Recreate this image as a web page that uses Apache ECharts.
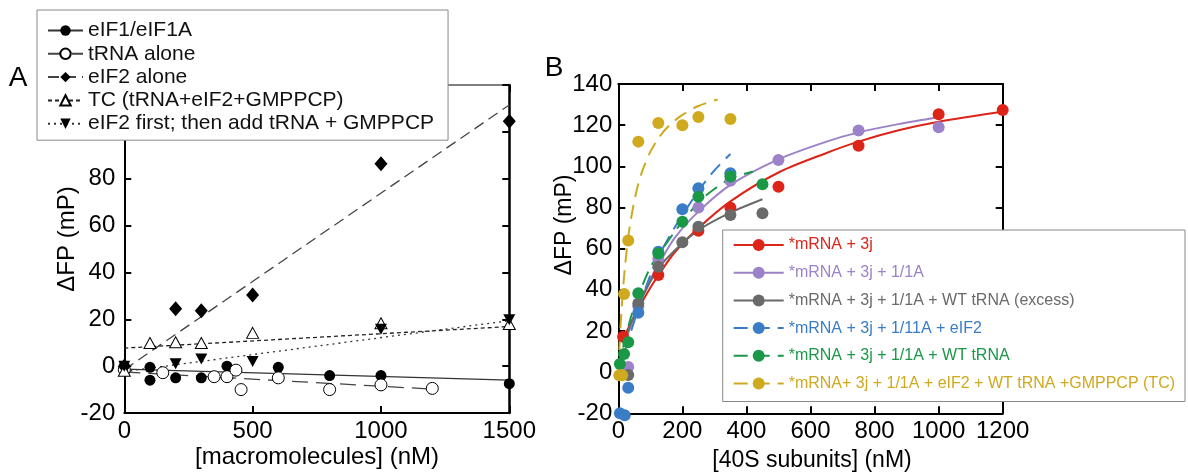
<!DOCTYPE html>
<html><head><meta charset="utf-8">
<script src="https://cdn.jsdelivr.net/npm/echarts@6/dist/echarts.min.js"></script>
<style>html,body{margin:0;padding:0;background:#fff}#c{width:1188px;height:473px}</style>
</head><body><div id="c"></div>
<script>
// ---------- Panel A : data ----------
const aEIF1X = [0, 100, 100, 200, 300, 400, 600, 800, 1000, 1500];
const aEIF1Y = [0, -0.5, -6, -5, -5, 0, -0.5, -4, -4, -7.5];
const aTRNAX = [0, 150, 350, 400, 435, 455, 600, 800, 1000, 1200];
const aTRNAY = [-1.5, -2.8, -4.5, -4.5, -1.7, -10, -5, -10, -8, -9.5];
const aEIF2X = [0, 200, 300, 500, 1000, 1500];
const aEIF2Y = [0, 24.5, 23.6, 30.4, 86.4, 104.5];
const aTCX = [0, 100, 200, 300, 500, 1000, 1500];
const aTCY = [-2, 9.9, 10.2, 9.9, 14.2, 18.3, 18];
const aFirstX = [0, 200, 300, 500, 1000, 1500];
const aFirstY = [0, 1, 3, 2, 15.7, 19.8];
// fitted lines
const aFitEIF1X = [0, 1500],  aFitEIF1Y = [-1.3, -6];
const aFitTRNAX = [0, 1200],  aFitTRNAY = [-2.5, -9.8];
const aFitEIF2X = [0, 1500],  aFitEIF2Y = [-1.5, 111.5];
const aFitTCX = [0, 1500],    aFitTCY = [7.7, 16.9];
const aFitFirstX = [0, 1500], aFitFirstY = [-2.3, 19.4];
const aNames = ['eIF1/eIF1A', 'tRNA alone', 'eIF2 alone', 'TC (tRNA+eIF2+GMPPCP)', 'eIF2 first; then add tRNA + GMPPCP'];

// ---------- Panel B : data ----------
const bNames = ['*mRNA + 3j', '*mRNA + 3j + 1/1A', '*mRNA + 3j + 1/1A + WT tRNA (excess)',
  '*mRNA + 3j + 1/11A + eIF2', '*mRNA + 3j + 1/1A + WT tRNA', '*mRNA+ 3j + 1/1A + eIF2 + WT tRNA +GMPPCP (TC)'];
const bColors = ['#dc2418', '#9c82c8', '#6a6a6a', '#3a7cc6', '#1a9848', '#cfa91e'];
const bRedX = [15, 125, 250, 350, 500, 750, 1000, 1200];
const bRedY = [17.2, 47.2, 68.7, 79.9, 90.1, 110, 125.3, 127.4];
const bPurX = [31, 62.5, 125, 250, 350, 500, 750, 1000];
const bPurY = [2.5, 32, 55, 80, 93, 103.1, 117.4, 119];
const bGryX = [31, 62.5, 125, 200, 250, 350, 450];
const bGryY = [-1.4, 33.4, 51.2, 63.1, 70.7, 76.4, 77.2];
const bBluX = [5, 20, 31, 62.5, 125, 200, 250, 350];
const bBluY = [-20, -21, -7.6, 28.9, 58.5, 79.1, 89.3, 96.6];
const bGrnX = [5, 18, 31, 62.5, 125, 200, 250, 350, 450];
const bGrnY = [4, 8.8, 14.5, 38.3, 57.7, 73.1, 85.2, 95, 91.3];
const bYelX = [3, 12, 18, 31, 62.5, 125, 200, 250, 350];
const bYelY = [-1.5, -1.5, 38, 64, 112, 121, 120, 124, 123];
// fitted curves
const bFitRedX = [15, 30, 60, 100, 125, 175, 250, 350, 500, 650, 750, 875, 1000, 1200];
const bFitRedY = [16, 21, 30, 41, 47, 58, 70, 83, 97, 106.5, 112, 117.5, 121.7, 126.5];
const bFitPurX = [20, 40, 65, 100, 125, 175, 250, 350, 500, 650, 750, 875, 1000];
const bFitPurY = [14, 23, 33, 45, 52, 65, 78, 91, 103.4, 112, 116.5, 120.5, 123.8];
const bFitGryX = [20, 40, 65, 100, 125, 175, 250, 350, 450];
const bFitGryY = [15, 24, 33, 44, 50.5, 59, 69, 77.5, 84];
const bFitBluX = [20, 40, 65, 100, 125, 175, 250, 300, 350];
const bFitBluY = [10, 20, 32, 47, 56, 70, 88, 98, 106];
const bFitGrnX = [15, 40, 65, 100, 130, 175, 220, 260, 300, 350, 420];
const bFitGrnY = [12, 27, 38, 51, 58, 68, 77, 84, 89, 94, 97.5];
const bFitYelX = [0, 5, 10, 20, 35, 55, 75, 100, 130, 160, 200, 250, 310];
const bFitYelY = [0, 16.7, 30, 50, 70, 86.8, 97.8, 107, 114.7, 120, 125, 129.3, 132.5];

// ---------- build ----------
const FONT = '"Liberation Sans", Arial, Helvetica, sans-serif';
const zip = (xs, ys) => xs.map((x, i) => [x, ys[i]]);

function axis(extra) {
  return Object.assign({
    type: 'value', splitLine: { show: false },
    axisLine: { show: true, onZero: false, lineStyle: { color: '#000', width: 2 } },
    axisTick: { show: true, inside: true, length: 7, lineStyle: { color: '#000', width: 2 } },
    axisLabel: { show: false }
  }, extra);
}
const lbl = (m) => ({ show: true, fontSize: 24, color: '#000', fontFamily: FONT, margin: m, formatter: (v) => String(v) });

const xAxis = [
  axis({ gridIndex: 0, position: 'bottom', min: 0, max: 1500, interval: 500, axisLabel: lbl(6) }),
  axis({ gridIndex: 0, position: 'top', min: 0, max: 1500, interval: 500, axisLine: { show: true, onZero: false, lineStyle: { color: '#555', width: 1.5 } } }),
  axis({ gridIndex: 1, position: 'bottom', min: 0, max: 1200, interval: 200, axisLabel: lbl(6) }),
  axis({ gridIndex: 1, position: 'top', min: 0, max: 1200, interval: 200 })
];
const yAxis = [
  axis({ gridIndex: 0, position: 'left', min: -20, max: 120, interval: 20, axisLabel: lbl(9) }),
  axis({ gridIndex: 0, position: 'right', min: -20, max: 120, interval: 20, axisLine: { show: true, onZero: false, lineStyle: { color: '#000', width: 2.5 } } }),
  axis({ gridIndex: 1, position: 'left', min: -20, max: 140, interval: 20, axisLabel: lbl(6) }),
  axis({ gridIndex: 1, position: 'right', min: -20, max: 140, interval: 20 })
];

const series = [];
// Panel A
const aDefs = [
  { fx: aFitEIF1X, fy: aFitEIF1Y, px: aEIF1X, py: aEIF1Y, sym: 'circle', rot: 0, fill: '#000', size: 11, dash: 'solid', lc: '#333' },
  { fx: aFitTRNAX, fy: aFitTRNAY, px: aTRNAX, py: aTRNAY, sym: 'circle', rot: 0, fill: '#fff', size: 12, dash: [16, 8], lc: '#444' },
  { fx: aFitEIF2X, fy: aFitEIF2Y, px: aEIF2X, py: aEIF2Y, sym: 'diamond', rot: 0, fill: '#000', size: [13, 15], dash: [11, 6], lc: '#444' },
  { fx: aFitTCX, fy: aFitTCY, px: aTCX, py: aTCY, sym: 'triangle', rot: 0, fill: '#fff', size: [12, 11], dash: [4, 3], lc: '#222' },
  { fx: aFitFirstX, fy: aFitFirstY, px: aFirstX, py: aFirstY, sym: 'triangle', rot: 180, fill: '#000', size: [12, 11], dash: [2, 4], lc: '#333' }
];
aDefs.forEach((d, i) => {
  const itemStyle = { color: d.fill, borderColor: '#000', borderWidth: d.fill === '#fff' ? 1 : 0, opacity: 1 };
  series.push({ type: 'line', name: aNames[i], xAxisIndex: 0, yAxisIndex: 0, data: zip(d.fx, d.fy),
    symbol: d.sym, symbolRotate: d.rot, symbolSize: d.size, showSymbol: false, silent: true,
    lineStyle: { color: d.lc, width: 1.3, type: d.dash }, itemStyle, z: 2 });
  series.push({ type: 'scatter', name: 'A' + i, xAxisIndex: 0, yAxisIndex: 0, data: zip(d.px, d.py),
    symbol: d.sym, symbolRotate: d.rot, symbolSize: d.size, clip: false, silent: true, itemStyle, z: 3 });
});
// Panel B
const bDefs = [
  [bFitRedX, bFitRedY, bRedX, bRedY, 'solid'],
  [bFitPurX, bFitPurY, bPurX, bPurY, 'solid'],
  [bFitGryX, bFitGryY, bGryX, bGryY, 'solid'],
  [bFitBluX, bFitBluY, bBluX, bBluY, [14, 8]],
  [bFitGrnX, bFitGrnY, bGrnX, bGrnY, [14, 8]],
  [bFitYelX, bFitYelY, bYelX, bYelY, [14, 8]]
];
bDefs.forEach((d, i) => {
  series.push({ type: 'line', name: bNames[i], xAxisIndex: 2, yAxisIndex: 2, data: zip(d[0], d[1]),
    smooth: 0.3, symbol: 'circle', symbolSize: 12, showSymbol: false, silent: true,
    lineStyle: { color: bColors[i], width: 2, type: d[4] }, itemStyle: { color: bColors[i], opacity: 1 }, z: 2 });
  series.push({ type: 'scatter', name: 'B' + i, xAxisIndex: 2, yAxisIndex: 2, data: zip(d[2], d[3]),
    symbol: 'circle', symbolSize: 12, clip: false, silent: true, itemStyle: { color: bColors[i], opacity: 1 }, z: 3 });
});

const txt = (t, x, y, size, rot) => ({ type: 'text', x, y, rotation: rot || 0, z: 50,
  style: { text: t, fontSize: size, fontFamily: FONT, fill: '#000', align: 'center', verticalAlign: 'middle' } });

const option = {
  animation: false,
  backgroundColor: '#fff',
  grid: [
    { left: 124.3, top: 85, width: 385, height: 328 },
    { left: 618.3, top: 84, width: 384.4, height: 329.3 }
  ],
  xAxis, yAxis, series,
  legend: [
    { data: aNames, orient: 'vertical', left: 37, top: 10, itemWidth: 35, itemHeight: 13, itemGap: 2.3,
      padding: [10, 14, 6, 10], backgroundColor: '#fff', borderColor: '#888', borderWidth: 1,
      selectedMode: false, textStyle: { fontSize: 21, color: '#111', fontFamily: FONT }, itemTextGap: 5 },
    { data: bNames.map((n, i) => ({ name: n, textStyle: { color: bColors[i] } })), orient: 'vertical',
      left: 722.7, top: 230, itemWidth: 50, itemHeight: 15, itemGap: 11.7, padding: [7, 10, 10, 10],
      backgroundColor: '#fff', borderColor: '#888', borderWidth: 1, selectedMode: false,
      textStyle: { fontSize: 16, fontFamily: FONT }, itemTextGap: 5 }
  ],
  graphic: [
    txt('A', 18, 78, 28),
    txt('B', 554, 68, 28),
    txt('\u0394FP (mP)', 67, 239, 24, Math.PI / 2),
    txt('[macromolecules] (nM)', 317, 457, 24),
    txt('\u0394FP (mP)', 565, 225, 23, Math.PI / 2),
    txt('[40S subunits] (nM)', 812, 461, 23)
  ]
};
const chart = echarts.init(document.getElementById('c'), null, { renderer: 'canvas' });
chart.setOption(option);
</script></body></html>
